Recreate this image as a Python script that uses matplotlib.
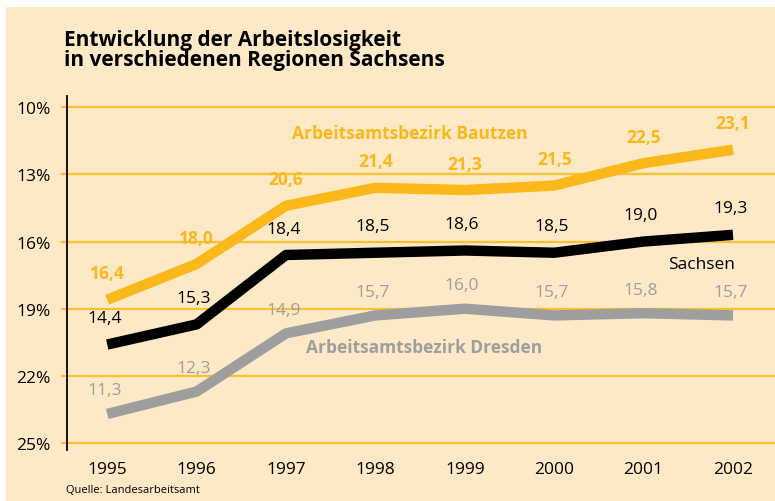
import matplotlib.pyplot as plt
import matplotlib.patches as patches

plt.rcParams['font.family'] = ['Open Sans', 'DejaVu Sans']

years = [1995, 1996, 1997, 1998, 1999, 2000, 2001, 2002]
bautzen = [16.4, 18.0, 20.6, 21.4, 21.3, 21.5, 22.5, 23.1]
sachsen = [14.4, 15.3, 18.4, 18.5, 18.6, 18.5, 19.0, 19.3]
dresden = [11.3, 12.3, 14.9, 15.7, 16.0, 15.7, 15.8, 15.7]

# the printed axis runs "upside down": 10% at the top, 25% at the bottom
tick_pos = [10, 13, 16, 19, 22, 25]
tick_labels = ['25%', '22%', '19%', '16%', '13%', '10%']

bg = '#fee9c6'
orange = '#fbb81a'
grey = '#9e9e9e'
gridc = '#fcc12e'

fig = plt.figure(figsize=(7.75, 5.02), dpi=100)
fig.patch.set_facecolor('white')
fig.patches.append(patches.Rectangle((6/775, 0), 1, 1 - 8/502, transform=fig.transFigure,
                                     facecolor=bg, edgecolor='none', zorder=-10))

ax = fig.add_axes([67/775, 1 - 451/502, 1 - 67/775, (451 - 97)/502])
ax.set_facecolor('none')
ax.set_xlim(1994.55, 2002.47)
ax.set_ylim(9.69, 25.5)

for t in tick_pos:
    ax.axhline(t, xmin=-0.007, xmax=1, color=gridc, lw=1.6, zorder=1, clip_on=False)

ax.plot(years, bautzen, color=orange, lw=7.5, solid_capstyle='butt', zorder=3)
ax.plot(years, sachsen, color='black', lw=7.5, solid_capstyle='butt', zorder=3)
ax.plot(years, dresden, color=grey, lw=7.5, solid_capstyle='butt', zorder=3)

for x, v in zip(years, bautzen):
    ax.annotate(f'{v:.1f}'.replace('.', ','), (x, v), xytext=(0, 19), textcoords='offset points',
                ha='center', va='center', fontsize=12.5, fontweight='bold', color=orange)
for x, v in zip(years, sachsen):
    ax.annotate(f'{v:.1f}'.replace('.', ','), (x, v), xytext=(-2, 19), textcoords='offset points',
                ha='center', va='center', fontsize=12.5, color='black')
for x, v in zip(years, dresden):
    ax.annotate(f'{v:.1f}'.replace('.', ','), (x, v), xytext=(-2, 17), textcoords='offset points',
                ha='center', va='center', fontsize=12.5, color=grey)

ax.text(1998.38, 23.85, 'Arbeitsamtsbezirk Bautzen', ha='center', va='center',
        fontsize=12.5, fontweight='bold', color=orange)
ax.text(2001.65, 18.0, 'Sachsen', ha='center', va='center', fontsize=12.5, color='black')
ax.text(1998.55, 14.3, 'Arbeitsamtsbezirk Dresden', ha='center', va='center',
        fontsize=12.5, fontweight='bold', color=grey)

ax.set_yticks(tick_pos)
ax.set_yticklabels(tick_labels, fontsize=12.5)
ax.set_xticks(years)
ax.set_xticklabels([str(y) for y in years], fontsize=12.5)
ax.tick_params(axis='y', length=0, pad=12)
ax.tick_params(axis='x', length=0, pad=8)

for s in ['top', 'right', 'bottom']:
    ax.spines[s].set_visible(False)
ax.spines['left'].set_linewidth(1.3)

fig.text(64/775, 1 - 30/502, 'Entwicklung der Arbeitslosigkeit\nin verschiedenen Regionen Sachsens',
         ha='left', va='top', fontsize=15, fontweight='bold', linespacing=0.92)
fig.text(66/775, 1 - 491/502, 'Quelle: Landesarbeitsamt', ha='left', va='center', fontsize=8)

fig.savefig('out.png', dpi=100, facecolor=fig.get_facecolor())
